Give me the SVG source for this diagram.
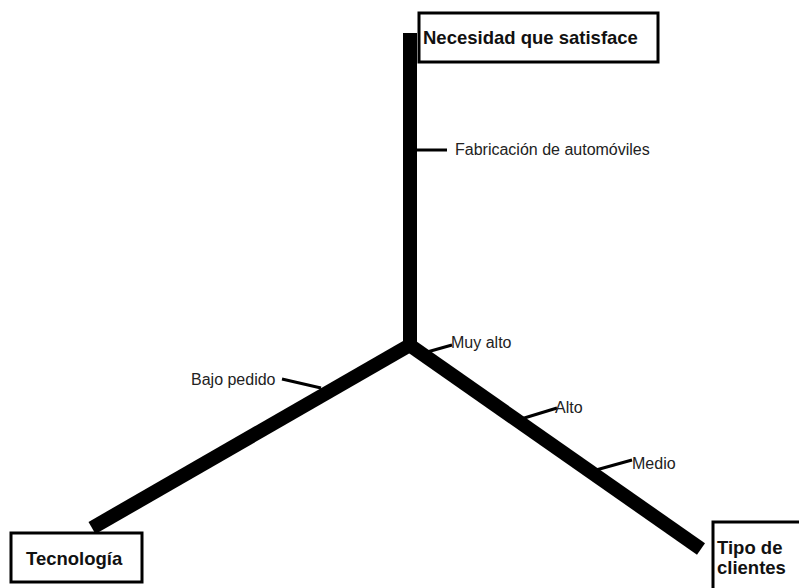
<svg xmlns="http://www.w3.org/2000/svg" width="799" height="588" viewBox="0 0 799 588">
<style>
.axis{stroke:#000;stroke-width:14;fill:none}
.tick{stroke:#000;stroke-width:3;fill:none}
.box{fill:#fff;stroke:#000;stroke-width:3}
.title{font-family:"Liberation Sans",Arial,sans-serif;font-weight:bold;font-size:18.5px;fill:#111}
.lbl{font-family:"Liberation Sans",Arial,sans-serif;font-size:16px;fill:#222}
</style>
<rect width="799" height="588" fill="#fff"/>
<g id="connectors">
<line class="axis" x1="410" y1="33" x2="410" y2="347"/>
<line class="axis" x1="410" y1="345" x2="92" y2="528"/>
<line class="axis" x1="408" y1="344" x2="701" y2="549"/>
<line class="tick" x1="417" y1="150" x2="447" y2="150"/>
<line class="tick" x1="420" y1="354" x2="452" y2="345"/>
<line class="tick" x1="282" y1="379" x2="321" y2="388"/>
<line class="tick" x1="521" y1="419" x2="557" y2="408"/>
<line class="tick" x1="596" y1="470" x2="632" y2="460"/>
</g>
<g id="node-necesidad">
<rect class="box" x="419" y="13" width="239" height="49"/>
<text class="title" x="423" y="44">Necesidad que satisface</text>
</g>
<g id="node-tecnologia">
<rect class="box" x="11" y="533" width="131" height="49"/>
<text class="title" x="26" y="565">Tecnología</text>
</g>
<g id="node-tipo">
<rect class="box" x="713" y="522" width="100" height="80"/>
<text class="title" x="717" y="554">Tipo de</text>
<text class="title" x="717" y="574">clientes</text>
</g>
<g id="labels">
<text class="lbl" x="455" y="155">Fabricación de automóviles</text>
<text class="lbl" x="451" y="348">Muy alto</text>
<text class="lbl" x="191" y="385">Bajo pedido</text>
<text class="lbl" x="555" y="413">Alto</text>
<text class="lbl" x="632" y="469">Medio</text>
</g>
</svg>
